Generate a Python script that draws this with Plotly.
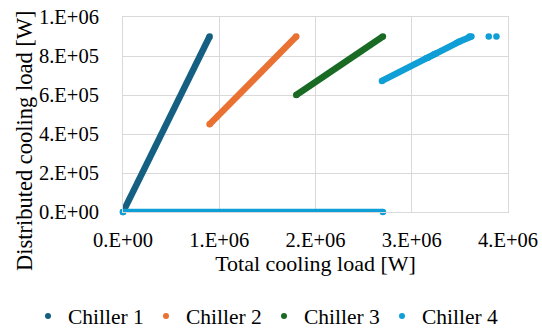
import plotly.graph_objects as go

# ---- data ----
series_names = ["Chiller 1", "Chiller 2", "Chiller 3", "Chiller 4"]
series_colors = ["#156082", "#E97132", "#196B24", "#0F9ED5"]

# total cooling load [W] (x) and distributed cooling load [W] (y); None = break
chiller1_x = [0.0, 0.9e6]
chiller1_y = [0.0, 0.9e6]

chiller2_x = [0.9e6, 1.8e6]
chiller2_y = [0.45e6, 0.9e6]

chiller3_x = [1.8e6, 2.7e6]
chiller3_y = [0.6e6, 0.9e6]

chiller4_x = [0.0, 2.7e6, None, 2.69e6, 3.15e6, None, 3.165e6, 3.235e6, None,
              3.25e6, 3.47e6, None, 3.49e6, 3.6e6, 3.62e6, None, 3.80e6, None, 3.88e6]
chiller4_y = [0.0, 0.0, None, 0.672e6, 0.788e6, None, 0.791e6, 0.809e6, None,
              0.8125e6, 0.8675e6, None, 0.8725e6, 0.9e6, 0.9e6, None, 0.9e6, None, 0.9e6]

x_tickvals = [0, 1e6, 2e6, 3e6, 4e6]
x_ticktext = ["0.E+00", "1.E+06", "2.E+06", "3.E+06", "4.E+06"]
y_tickvals = [0, 2e5, 4e5, 6e5, 8e5, 1e6]
y_ticktext = ["0.E+00", "2.E+05", "4.E+05", "6.E+05", "8.E+05", "1.E+06"]

x_title = "Total cooling load [W]"
y_title = "Distributed cooling load [W]"

xs = [chiller1_x, chiller2_x, chiller3_x, chiller4_x]
ys = [chiller1_y, chiller2_y, chiller3_y, chiller4_y]

FONT = "Liberation Serif, DejaVu Serif, serif"

fig = go.Figure()
for name, color, x, y in zip(series_names, series_colors, xs, ys):
    fig.add_trace(go.Scatter(
        x=x, y=y, mode="lines+markers", name=name,
        line=dict(color=color, width=6.5),
        marker=dict(color=color, size=6.5, line=dict(width=0)),
        connectgaps=False, cliponaxis=False, showlegend=False,
        hoverinfo="skip"))
for name, color in zip(series_names, series_colors):
    fig.add_trace(go.Scatter(
        x=[None], y=[None], mode="markers", name=name,
        marker=dict(color=color, size=6), showlegend=True))

grid = "#D9D9D9"
W = 542.0
fig.update_layout(
    template="none",
    width=542, height=334,
    margin=dict(l=0, r=0, t=17, b=122),
    paper_bgcolor="white", plot_bgcolor="white",
    font=dict(family=FONT, size=20.5, color="#000000"),
    showlegend=True,
    legend=dict(orientation="h", xref="paper", yref="container",
                x=28 / W, y=0.054, xanchor="left", yanchor="middle",
                font=dict(family=FONT, size=21.5, color="#000000"),
                itemwidth=30, entrywidth=73, traceorder="normal"),
    xaxis=dict(domain=[123 / W, 508 / W], automargin=False,
               range=[0, 4e6], tickvals=x_tickvals, ticktext=x_ticktext,
               showgrid=True, gridcolor=grid, gridwidth=1,
               showline=True, linecolor=grid, linewidth=1, mirror=True,
               zeroline=False, ticks="", ticklabelstandoff=9,
               title=dict(text=x_title, standoff=6,
                          font=dict(family=FONT, size=22))),
    yaxis=dict(range=[0, 1e6], tickvals=y_tickvals, ticktext=y_ticktext,
               automargin=False,
               showgrid=True, gridcolor=grid, gridwidth=1,
               showline=True, linecolor=grid, linewidth=1, mirror=True,
               zeroline=False, ticks="", ticklabelstandoff=19),
    annotations=[dict(text=y_title, textangle=-90, showarrow=False,
                      xref="paper", yref="paper", x=24 / W, y=(212 - 141) / 195,
                      xanchor="center", yanchor="middle",
                      font=dict(family=FONT, size=22.5, color="#000000"))],
)

fig.write_html("out.html")
